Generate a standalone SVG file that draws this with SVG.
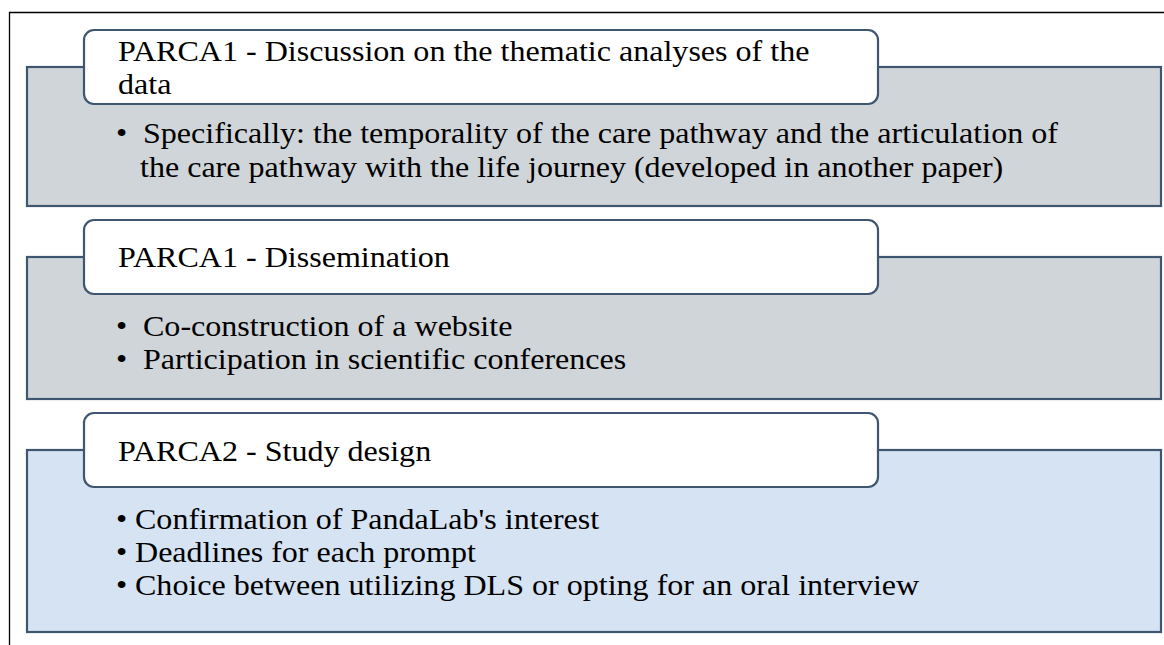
<svg xmlns="http://www.w3.org/2000/svg" width="1164" height="645" viewBox="0 0 1164 645">
<style>
.frame{fill:none;stroke:#000;stroke-width:1.3}
.gray{fill:#d0d5d9;stroke:#3f5670;stroke-width:2.2}
.blue{fill:#d6e3f2;stroke:#3f5670;stroke-width:2.2}
.hdr{fill:#fff;stroke:#3f5670;stroke-width:2.2}
text{font-family:"Liberation Serif","Times New Roman",serif;font-size:29.5px;fill:#000}
</style>
<rect width="1164" height="645" fill="#fff"/>
<path class="frame" d="M9.5,645 V12.5 H1164"/>
<g id="block1">
<rect class="gray" x="27" y="67" width="1134" height="139"/>
<rect class="hdr" x="84" y="30" width="794" height="74" rx="10"/>
<g transform="scale(1.087 1)">
<text x="108.56" y="61">PARCA1 - Discussion on the thematic analyses of the</text>
<text x="108.56" y="94">data</text>
<text x="106.72" y="143">•</text>
<text x="131.55" y="143">Specifically: the temporality of the care pathway and the articulation of</text>
<text x="128.79" y="177">the care pathway with the life journey (developed in another paper)</text>
</g>
</g>
<g id="block2">
<rect class="gray" x="27" y="257" width="1134" height="142"/>
<rect class="hdr" x="84" y="220" width="794" height="74" rx="10"/>
<g transform="scale(1.087 1)">
<text x="108.56" y="267">PARCA1 - Dissemination</text>
<text x="106.72" y="336">•</text>
<text x="131.55" y="336">Co-construction of a website</text>
<text x="106.72" y="369">•</text>
<text x="131.55" y="369">Participation in scientific conferences</text>
</g>
</g>
<g id="block3">
<rect class="blue" x="27" y="450" width="1134" height="182"/>
<rect class="hdr" x="84" y="413" width="794" height="74" rx="10"/>
<g transform="scale(1.087 1)">
<text x="108.56" y="461">PARCA2 - Study design</text>
<text x="106.72" y="529">•</text>
<text x="124.20" y="529">Confirmation of PandaLab's interest</text>
<text x="106.72" y="562">•</text>
<text x="124.20" y="562">Deadlines for each prompt</text>
<text x="106.72" y="595">•</text>
<text x="124.20" y="595">Choice between utilizing DLS or opting for an oral interview</text>
</g>
</g>
<g id="connectors"></g>
</svg>
